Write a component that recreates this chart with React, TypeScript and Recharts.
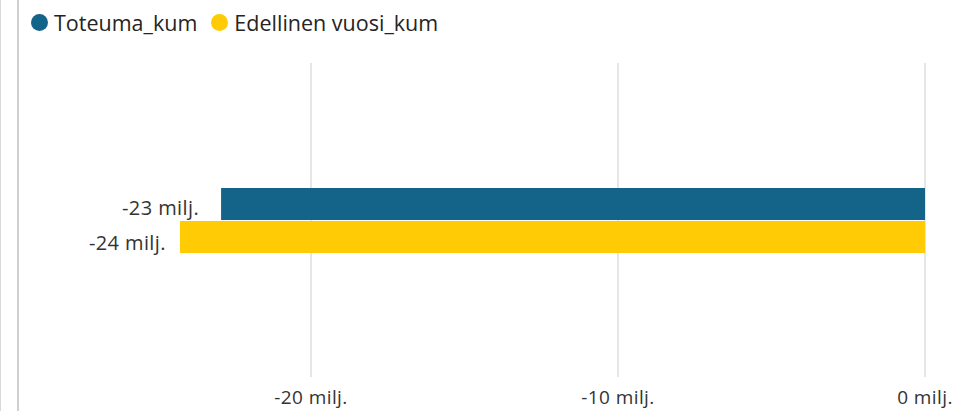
import React from "react";
import { BarChart, Bar, XAxis, YAxis, CartesianGrid, LabelList } from "recharts";

const categories = ["Kumulatiivinen"];
const toteumaKum = [-22.93e6];
const edellinenKum = [-24.27e6];
const xTicks = [-20e6, -10e6, 0];

const seriesNames = ["Toteuma_kum", "Edellinen vuosi_kum"];
const seriesColors = ["#146389", "#FFCB05"];

const data = categories.map((name, i) => ({
  name,
  toteuma: toteumaKum[i],
  edellinen: edellinenKum[i]
}));

const fmt = (v: number) => `${Math.round(v / 1e6)} milj.`;
const font = "'Segoe UI', 'Open Sans', 'Noto Sans', sans-serif";

function LegendRow() {
  return (
    <div style={{ position: "absolute", left: 31, top: 8, display: "flex", alignItems: "center", fontFamily: font, fontSize: 21.5, color: "#252423", height: 28 }}>
      {seriesNames.map((n, i) => (
        <span key={n} style={{ display: "flex", alignItems: "center", marginRight: 14 }}>
          <span style={{ width: 17, height: 17, borderRadius: 9, background: seriesColors[i], display: "inline-block", marginRight: 6 }} />
          {n}
        </span>
      ))}
    </div>
  );
}

const makeLabel = (gap: number, dy: number) => (props: any) => {
  const { x, y, width, height, value } = props;
  const left = Math.min(Number(x), Number(x) + Number(width));
  return (
    <text x={left - gap} y={Number(y) + Number(height) / 2 + dy} textAnchor="end" dominantBaseline="central" fill="#333" fontSize={20} fontFamily={font} letterSpacing={0.4}>
      {fmt(Number(value))}
    </text>
  );
};

// only the tick positions, no line at the plot's left edge
const gridX = (props: any) => {
  const scale = props?.xAxis?.scale;
  if (scale && typeof scale === "function") return xTicks.map((t) => scale(t));
  if (scale && typeof scale.map === "function") return xTicks.map((t) => scale.map(t));
  return [];
};

export default function App() {
  return (
    <div style={{ position: "absolute", left: 0, top: 0, width: 956, height: 411, background: "#fff", overflow: "hidden" }}>
      <div style={{ position: "absolute", left: 0, top: 0, width: 1, height: 411, background: "#d9d9d9" }} />
      <div style={{ position: "absolute", left: 17, top: 0, width: 2, height: 411, background: "#d0d0d0" }} />
      <LegendRow />
      <BarChart
        width={956}
        height={411}
        data={data}
        layout="vertical"
        margin={{ top: 63, right: 31, bottom: 4, left: 20 }}
        barSize={32}
        barGap={1}
      >
        <CartesianGrid horizontal={false} stroke="#e6e6e6" strokeWidth={2} verticalCoordinatesGenerator={gridX} />
        <XAxis
          type="number"
          domain={[-29.48e6, 0]}
          ticks={xTicks}
          tickFormatter={fmt}
          axisLine={false}
          tickLine={false}
          tick={{ fill: "#333", fontSize: 19, fontFamily: font, letterSpacing: 0.4 }}
          dy={6}
        />
        <YAxis type="category" dataKey="name" hide width={0} />
        <Bar dataKey="toteuma" name={seriesNames[0]} fill={seriesColors[0]} isAnimationActive={false}>
          <LabelList dataKey="toteuma" content={makeLabel(22, 3)} />
        </Bar>
        <Bar dataKey="edellinen" name={seriesNames[1]} fill={seriesColors[1]} isAnimationActive={false}>
          <LabelList dataKey="edellinen" content={makeLabel(14, 5)} />
        </Bar>
      </BarChart>
    </div>
  );
}
